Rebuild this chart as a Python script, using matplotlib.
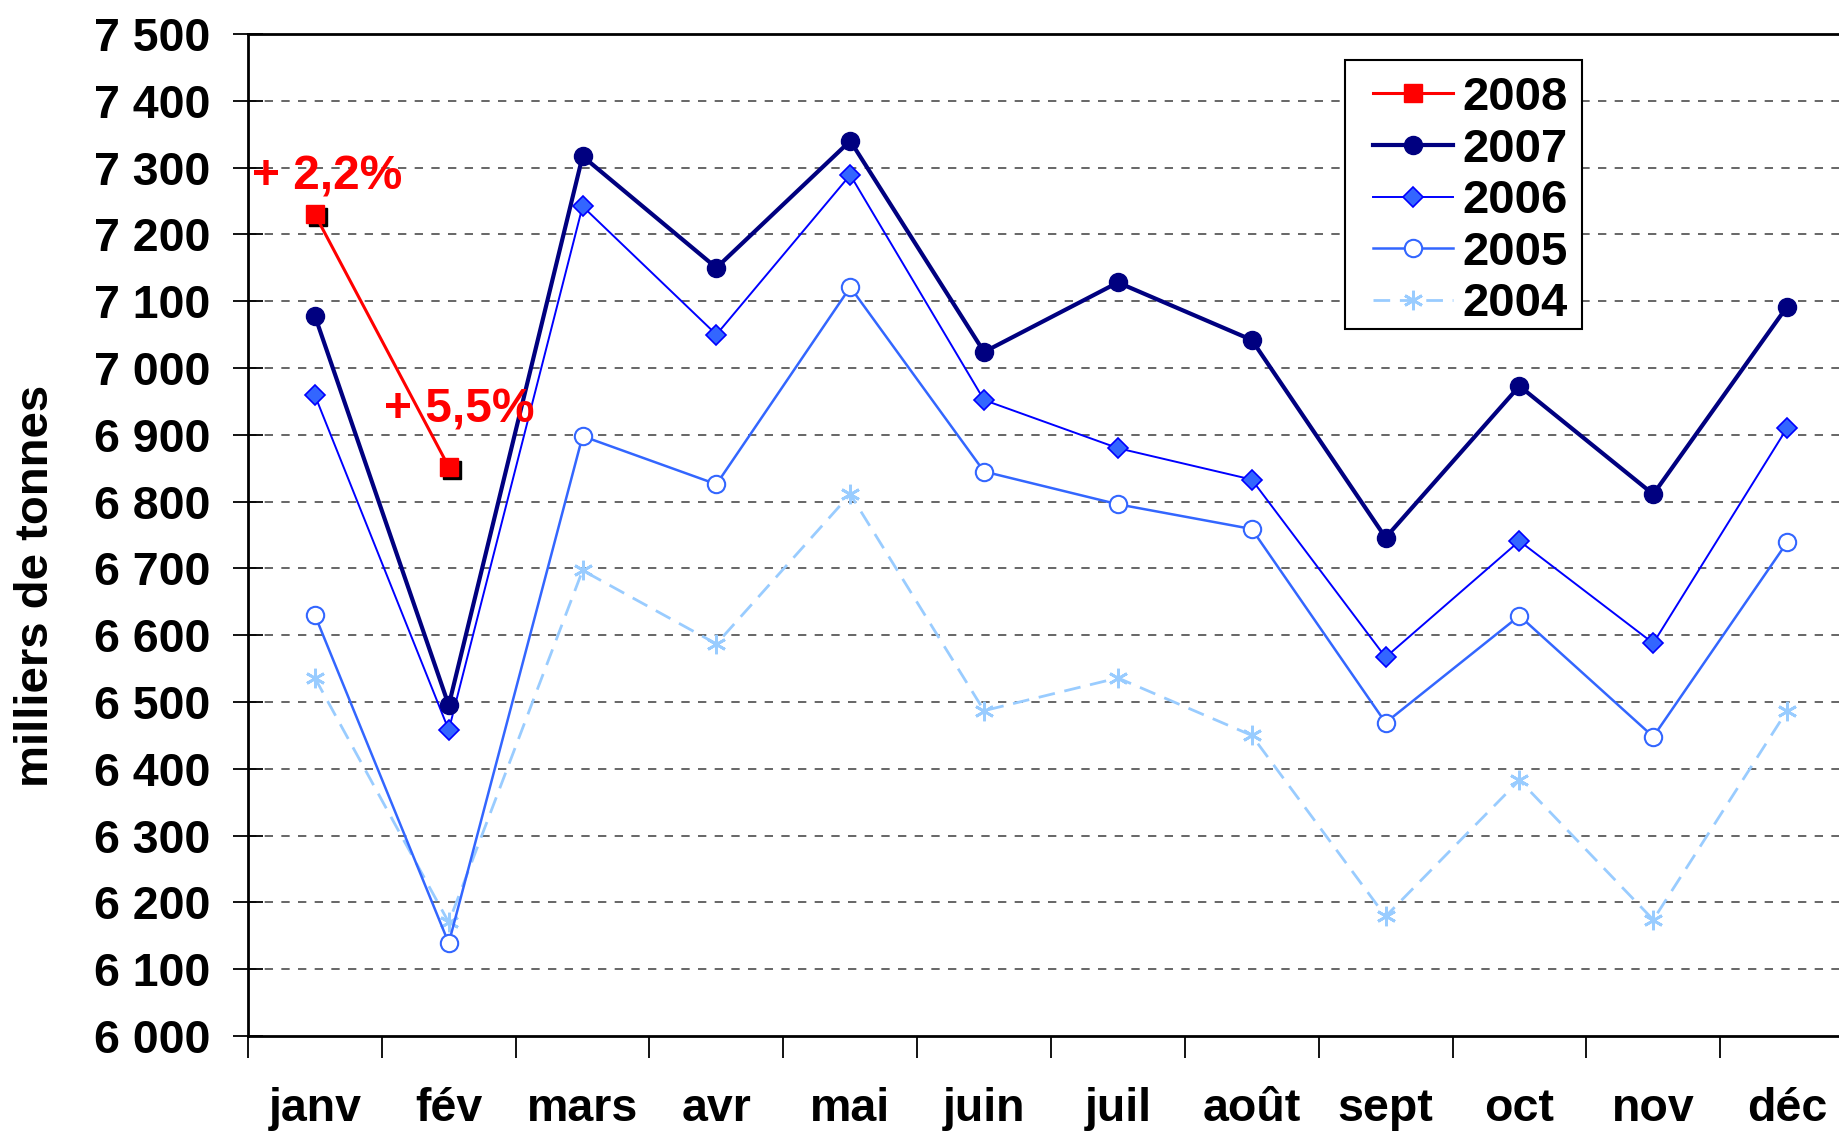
import matplotlib
matplotlib.use("Agg")
import matplotlib.pyplot as plt
import matplotlib.transforms as mtransforms
from matplotlib.patches import Rectangle

months = ["janv", "fév", "mars", "avr", "mai", "juin", "juil", "août", "sept", "oct", "nov", "déc"]
y2008 = [7230, 6852]
y2007 = [7078, 6495, 7317, 7150, 7340, 7024, 7128, 7042, 6746, 6973, 6811, 7092]
y2006 = [6959, 6458, 7242, 7050, 7289, 6952, 6880, 6833, 6567, 6741, 6588, 6910]
y2005 = [6630, 6139, 6898, 6826, 7121, 6845, 6796, 6759, 6469, 6629, 6448, 6739]
y2004 = [6536, 6170, 6697, 6587, 6811, 6487, 6536, 6450, 6179, 6383, 6174, 6487]
yticks = [6000, 6100, 6200, 6300, 6400, 6500, 6600, 6700, 6800, 6900, 7000, 7100, 7200, 7300, 7400, 7500]
annot = ["+ 2,2%", "+ 5,5%"]

plt.rcParams['font.family'] = ['Liberation Sans', 'DejaVu Sans']
plt.rcParams['font.weight'] = 'bold'

W, H = 1840, 1133
fig = plt.figure(figsize=(W / 100, H / 100), dpi=100)
left, right, top, bottom = 248, 1854, 34, 1036
ax = fig.add_axes([left / W, 1 - bottom / H, (right - left) / W, (bottom - top) / H])

x = list(range(len(months)))
ax.set_xlim(-0.5, len(months) - 0.5)
ax.set_ylim(yticks[0], yticks[-1])

# grid
for v in yticks[1:-1]:
    ax.axhline(v, color='#4d4d4d', lw=1.2, ls=(0, (5, 5)), zorder=1)

ax.plot(x, y2004, color='#99CCFF', lw=2.0, ls=(0, (6, 3.5)), marker=(6, 2, 0), markersize=14,
        markeredgewidth=2.0, markeredgecolor='#99CCFF', label='2004', zorder=3)
ax.plot(x, y2005, color='#3366FF', lw=1.8, marker='o', markersize=12.5, markerfacecolor='white',
        markeredgecolor='#3366FF', markeredgewidth=1.5, label='2005', zorder=4)
ax.plot(x, y2006, color='#0000FF', lw=1.4, marker='D', markersize=10, markerfacecolor='#3366FF',
        markeredgecolor='#0000FF', markeredgewidth=1.2, label='2006', zorder=5)
ax.plot(x, y2007, color='#000080', lw=3.0, marker='o', markersize=13, markerfacecolor='#000080',
        markeredgecolor='#000080', label='2007', zorder=6)
x08 = x[:len(y2008)]
shadow = mtransforms.offset_copy(ax.transData, fig=fig, x=3, y=-3, units='dots')
ax.plot(x08, y2008, ls='none', marker='s', markersize=13, color='black', transform=shadow, zorder=7)
ax.plot(x08, y2008, color='#FF0000', lw=2.2, marker='s', markersize=13, markerfacecolor='#FF0000',
        markeredgecolor='#FF0000', label='2008', zorder=8)

# annotations
ax.annotate(annot[0], xy=(x08[0], y2008[0]), xytext=(12, 37), textcoords='offset pixels',
            ha='center', va='center', color='#FF0000', fontsize=34.5, fontweight='bold', zorder=9)
ax.annotate(annot[1], xy=(x08[1], y2008[1]), xytext=(11, 57), textcoords='offset pixels',
            ha='center', va='center', color='#FF0000', fontsize=34.5, fontweight='bold', zorder=9)

# axes styling
for s in ['left', 'bottom', 'top']:
    ax.spines[s].set_linewidth(2.0)
    ax.spines[s].set_color('black')
ax.spines['right'].set_visible(False)

ax.set_yticks(yticks)
ax.set_yticklabels([f"{v // 1000} {v % 1000:03d}" for v in yticks])
ax.tick_params(axis='y', which='major', direction='inout', length=22, width=1.3, pad=16,
               labelsize=33.5)

ax.set_xticks([i - 0.5 for i in range(len(months) + 1)])
ax.set_xticklabels([])
ax.tick_params(axis='x', which='major', direction='out', length=16, width=1.3)
ax.set_xticks(x, minor=True)
ax.set_xticklabels(months, minor=True)
ax.tick_params(axis='x', which='minor', length=0, pad=37, labelsize=33.5)

fig.text(36 / W, 1 - 586 / H, "milliers de tonnes", rotation=90, ha='center', va='center',
         fontsize=34, fontweight='bold')

# legend frame drawn explicitly
fig.patches.append(Rectangle((1345 / W, 1 - 329 / H), (1582 - 1345) / W, (329 - 60) / H,
                             transform=fig.transFigure, facecolor='white', edgecolor='black',
                             linewidth=1.5, zorder=10))

handles, labels = ax.get_legend_handles_labels()
order = ['2008', '2007', '2006', '2005', '2004']
hmap = dict(zip(labels, handles))
leg = fig.legend([hmap[k] for k in order], order, loc='upper left',
                 bbox_to_anchor=(1373 / W, 1 - 76 / H), borderaxespad=0, fontsize=34,
                 handlelength=1.69, handletextpad=0.2, labelspacing=0.16, borderpad=0,
                 frameon=False)
leg.set_zorder(11)
for t in leg.get_texts():
    t.set_fontweight('bold')

fig.savefig("out.png", dpi=100)
